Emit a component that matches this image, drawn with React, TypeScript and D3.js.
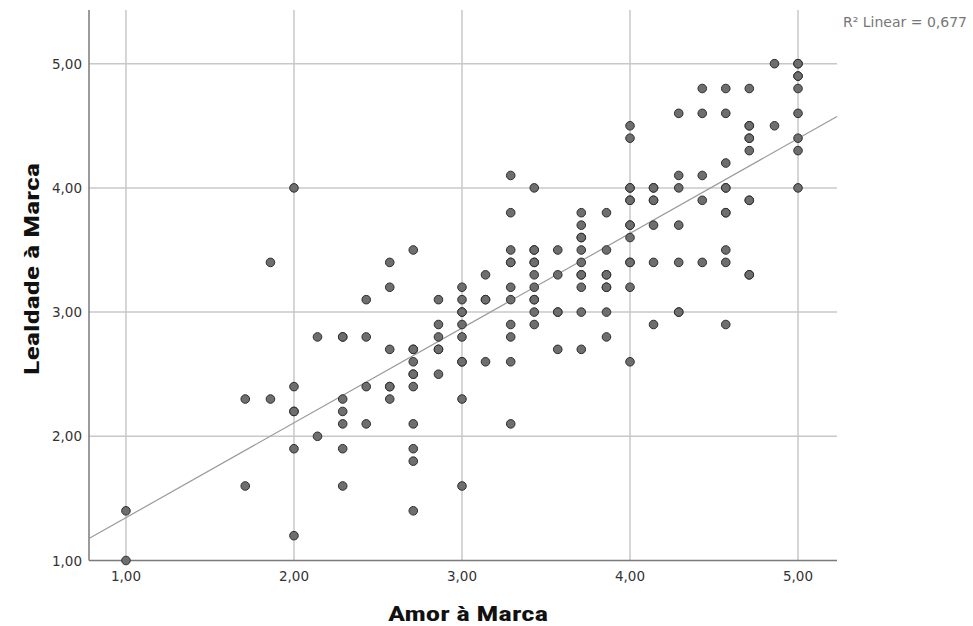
import React from "react";
import * as d3 from "d3";

// Amor à Marca levels (x) and the Lealdade à Marca values observed at each level (y)
const amorLevels: number[] = [
  1.0, 1.71, 1.86, 2.0, 2.14, 2.29, 2.43, 2.57, 2.71, 2.86, 3.0, 3.14, 3.29,
  3.43, 3.57, 3.71, 3.86, 4.0, 4.14, 4.29, 4.43, 4.57, 4.71, 4.86, 5.0,
];
const lealdadeByLevel: number[][] = [
  [1.4, 1.0],
  [2.3, 1.6],
  [3.4, 2.3],
  [4.0, 2.4, 2.2, 2.2, 1.9, 1.2],
  [2.8, 2.0],
  [2.8, 2.8, 2.3, 2.2, 2.1, 1.9, 1.6],
  [3.1, 2.8, 2.4, 2.1],
  [3.4, 3.2, 2.7, 2.4, 2.4, 2.3],
  [3.5, 2.7, 2.7, 2.6, 2.5, 2.5, 2.4, 2.1, 1.9, 1.8, 1.4],
  [3.1, 2.9, 2.8, 2.7, 2.7, 2.5],
  [3.2, 3.1, 3.0, 3.0, 2.9, 2.8, 2.6, 2.6, 2.3, 1.6],
  [3.3, 3.1, 3.1, 2.6],
  [4.1, 3.8, 3.5, 3.4, 3.4, 3.2, 3.1, 2.9, 2.8, 2.6, 2.1],
  [4.0, 3.5, 3.5, 3.4, 3.4, 3.3, 3.2, 3.1, 3.1, 3.0, 2.9],
  [3.5, 3.3, 3.0, 3.0, 2.7],
  [3.8, 3.7, 3.6, 3.6, 3.5, 3.4, 3.3, 3.3, 3.2, 3.0, 2.7],
  [3.8, 3.5, 3.3, 3.3, 3.2, 3.2, 3.0, 2.8],
  [4.5, 4.4, 4.0, 4.0, 3.9, 3.9, 3.7, 3.7, 3.6, 3.4, 3.4, 3.2, 2.6],
  [4.0, 4.0, 3.9, 3.9, 3.7, 3.4, 2.9],
  [4.6, 4.1, 4.0, 3.7, 3.4, 3.0, 3.0],
  [4.8, 4.6, 4.1, 3.9, 3.4],
  [4.8, 4.6, 4.2, 4.0, 4.0, 3.8, 3.8, 3.5, 3.4, 2.9],
  [4.8, 4.5, 4.5, 4.4, 4.4, 4.3, 3.9, 3.9, 3.3, 3.3],
  [5.0, 4.5],
  [5.0, 5.0, 4.9, 4.9, 4.8, 4.6, 4.4, 4.3, 4.0],
];

const xTicks: number[] = [1, 2, 3, 4, 5];
const yTicks: number[] = [1, 2, 3, 4, 5];

// Fit line
const fitIntercept = 0.582;
const fitSlope = 0.763;
const r2Label = "R² Linear = 0,677";

const xTitle = "Amor à Marca";
const yTitle = "Lealdade à Marca";

const fmt = (v: number) => v.toFixed(2).replace(".", ",");

export default function App() {
  const W = 973;
  const H = 626;
  const left = 89;
  const right = 837;
  const top = 10;
  const bottom = 560.5;

  const x = d3.scaleLinear().domain([0.78, 5.232]).range([left, right]);
  const y = d3.scaleLinear().domain([1, 5.42]).range([bottom, top + 1.5]);

  const points = amorLevels.flatMap((a, i) =>
    lealdadeByLevel[i].map((l) => ({ a, l }))
  );

  const [d0, d1] = x.domain();
  const fitLine = d3.line<number>()
    .x((v) => x(v))
    .y((v) => y(fitIntercept + fitSlope * v))([d0, d1]);

  const titleFont = "'Liberation Sans Narrow', 'Roboto Condensed', 'Liberation Sans', sans-serif";

  return (
    <svg
      width={W}
      height={H}
      style={{ position: "absolute", left: 0, top: 0, background: "#fff" }}
    >
      {/* grid */}
      {xTicks.map((t) => (
        <line key={"gx" + t} x1={x(t)} x2={x(t)} y1={top} y2={bottom}
          stroke="#c8c8c8" strokeWidth={1.5} />
      ))}
      {yTicks.filter((t) => t !== 1).map((t) => (
        <line key={"gy" + t} x1={left} x2={right} y1={y(t)} y2={y(t)}
          stroke="#c8c8c8" strokeWidth={1.5} />
      ))}
      {/* axes */}
      <line x1={left} x2={left} y1={top} y2={bottom} stroke="#7a7a7a" strokeWidth={1.5} />
      <line x1={left} x2={right} y1={bottom} y2={bottom} stroke="#7a7a7a" strokeWidth={1.5} />

      {/* fit line */}
      <path d={fitLine || ""} fill="none" stroke="#9a9a9a" strokeWidth={1.2} />

      {/* points */}
      {points.map((p, i) => (
        <circle key={i} cx={x(p.a)} cy={y(p.l)} r={4.3}
          fill="#6e6e6e" stroke="#2e2e2e" strokeWidth={1} />
      ))}

      {/* tick labels */}
      {xTicks.map((t) => (
        <text key={"tx" + t} x={x(t)} y={581} textAnchor="middle"
          fontFamily="DejaVu Sans, sans-serif" fontSize={13.5} fill="#333">
          {fmt(t)}
        </text>
      ))}
      {yTicks.map((t) => (
        <text key={"ty" + t} x={82} y={y(t)} textAnchor="end" dominantBaseline="central"
          fontFamily="DejaVu Sans, sans-serif" fontSize={13.5} fill="#333">
          {fmt(t)}
        </text>
      ))}

      {/* titles */}
      <text x={468} y={621} textAnchor="middle" fontWeight="bold"
        fontFamily={titleFont}
        fontSize={20} fill="#111" textLength={160} lengthAdjust="spacingAndGlyphs">
        {xTitle}
      </text>
      <text transform={`translate(39,${269}) rotate(-90)`} textAnchor="middle" fontWeight="bold"
        fontFamily={titleFont}
        fontSize={20} fill="#111" textLength={212} lengthAdjust="spacingAndGlyphs">
        {yTitle}
      </text>

      {/* R² annotation */}
      <text x={843} y={27} fontFamily="DejaVu Sans, sans-serif" fontSize={13.5} fill="#777"
        textLength={124} lengthAdjust="spacingAndGlyphs">
        {r2Label}
      </text>
    </svg>
  );
}
